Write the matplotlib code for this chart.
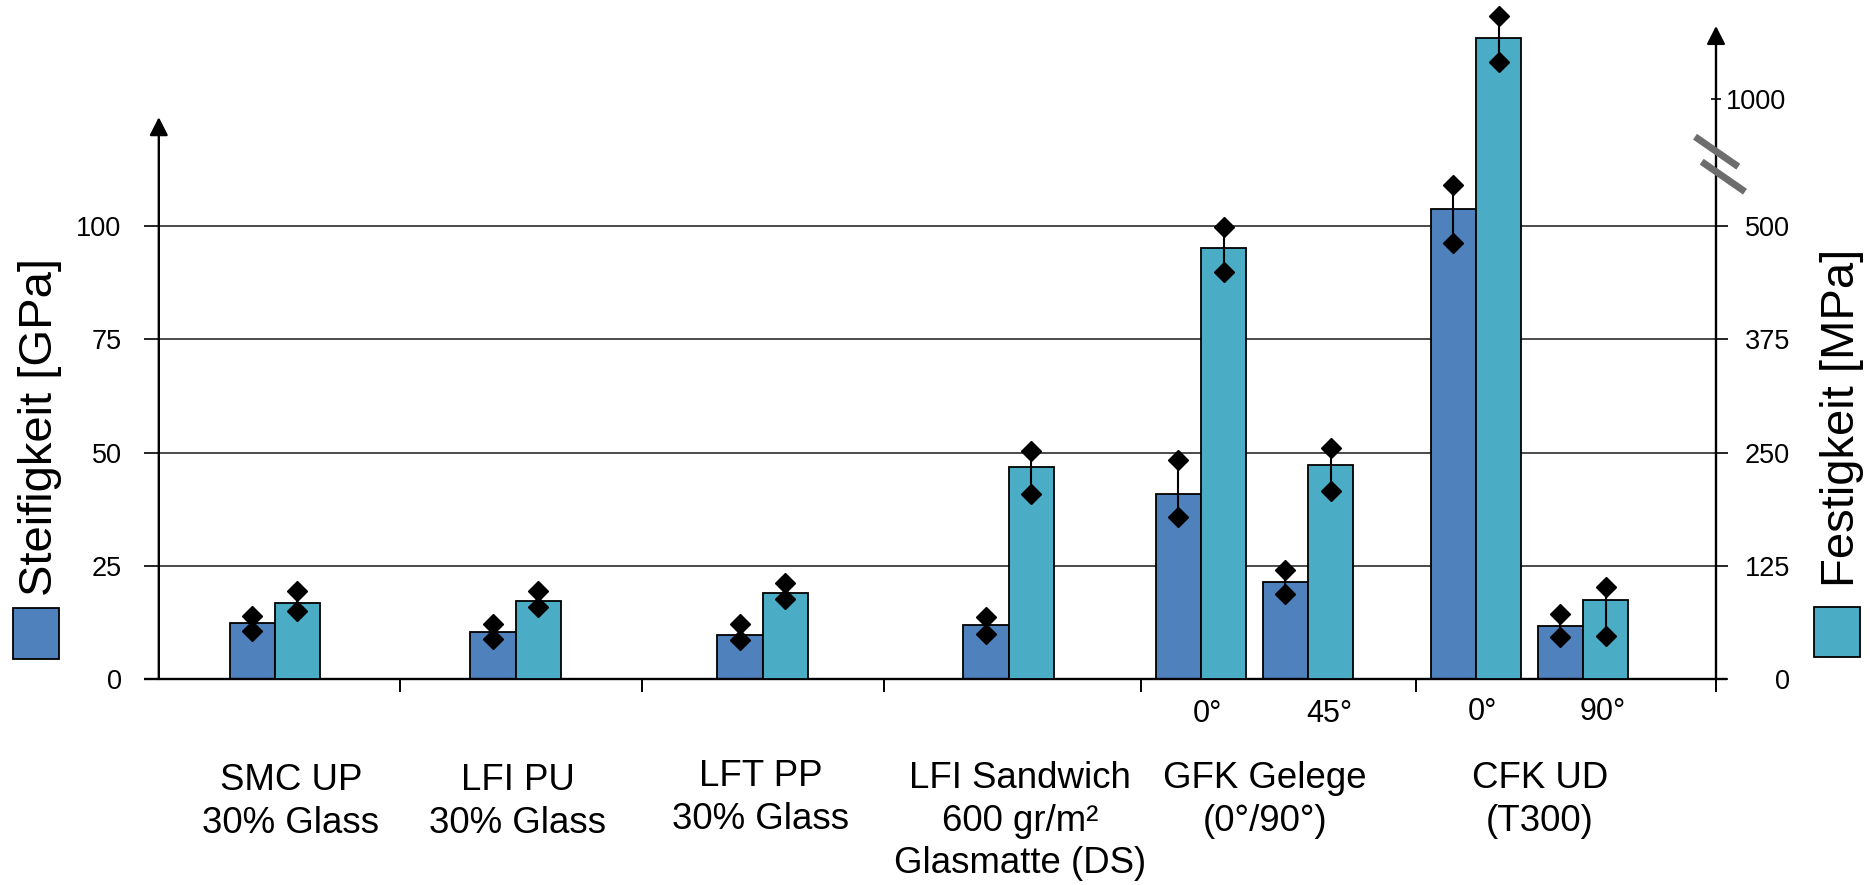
import numpy as np
import matplotlib
matplotlib.use("Agg")
import matplotlib.pyplot as plt
from matplotlib.patches import Rectangle
from matplotlib.lines import Line2D

plt.rcParams['font.family'] = ['Liberation Sans', 'DejaVu Sans']

# ---------------- data ----------------
group_labels = [["SMC UP", "30% Glass"],
                ["LFI PU", "30% Glass"],
                ["LFT PP", "30% Glass"],
                ["LFI Sandwich", "600 gr/m²", "Glasmatte (DS)"],
                ["GFK Gelege", "(0°/90°)"],
                ["CFK UD", "(T300)"]]
orientation_labels = ["0°", "45°", "0°", "90°"]

# one entry per bar pair (SMC, LFI PU, LFT PP, Sandwich, GFK 0°, GFK 45°, CFK 0°, CFK 90°)
stiffness      = [12.3, 10.4, 9.8, 11.9, 40.9, 21.4, 103.7, 11.8]      # GPa
stiffness_low  = [10.7, 8.85, 8.56, 9.9, 35.7, 18.75, 96.3, 9.2]
stiffness_high = [13.9, 12.05, 12.15, 13.6, 48.3, 24.0, 109.1, 14.3]
strength       = [83.5, 86.3, 95.0, 234.5, 476.0, 236.0, 1240.0, 87.2]  # MPa
strength_low   = [75.3, 79.8, 87.9, 204.5, 449.5, 207.5, 1146.0, 47.8]
strength_high  = [96.8, 97.7, 105.5, 252.0, 499.5, 255.0, 1329.0, 101.6]

left_ticks = [0, 25, 50, 75, 100]
right_ticks = [0, 125, 250, 375, 500]
right_upper_tick = 1000

# ---------------- layout (pixels of the 1870x885 canvas) ----------------
FIG_W, FIG_H = 1870, 885
AX_L, AX_R, AX_B, AX_T = 158.8, 1716.0, 679.0, 26.0
PX_Y = 4.529          # pixels per GPa
PX_X = 45.3           # pixels per bar width
pair_px = [274.8, 515.5, 762.7, 1008.7, 1201.0, 1308.0, 1476.0, 1583.0]
sep_px = [400, 642, 884, 1141, 1415.7, AX_R]
LEFT_ARROW_TIP_PX = 117.2
UPPER_1000_PX = 99.3
MS = 10.5

C_STIFF = '#4F81BD'
C_STREN = '#4BACC6'

def fx(px):
    return (px - AX_L) / PX_X

YTOP = (AX_B - AX_T) / PX_Y
XMAX = fx(AX_R)
K_UP = ((AX_B - UPPER_1000_PX) / PX_Y - 100.0) / (right_upper_tick - 500.0)

def fwd(v):
    v = np.asarray(v, dtype=float)
    return np.where(v <= 500, v / 5.0, 100.0 + (v - 500.0) * K_UP)

def inv(u):
    u = np.asarray(u, dtype=float)
    return np.where(u <= 100, u * 5.0, 500.0 + (u - 100.0) / K_UP)

fig = plt.figure(figsize=(FIG_W / 100, FIG_H / 100), dpi=100)
ax = fig.add_axes([AX_L / FIG_W, (FIG_H - AX_B) / FIG_H,
                   (AX_R - AX_L) / FIG_W, (AX_B - AX_T) / FIG_H])
ax.set_xlim(0, XMAX)
ax.set_ylim(0, YTOP)
for s in ax.spines.values():
    s.set_visible(False)

centers = np.array([fx(p) for p in pair_px])
x_stiff = centers - 0.5
x_stren = centers + 0.5

# gridlines
for t in left_ticks[1:]:
    ax.axhline(t, color='#1a1a1a', lw=1.1, zorder=1)

# stiffness bars
st = np.array(stiffness)
ax.bar(x_stiff, st, width=1.0, color=C_STIFF, edgecolor='black', linewidth=1.3, zorder=2)
lo = st - np.array(stiffness_low)
hi = np.array(stiffness_high) - st
ax.errorbar(x_stiff, st, yerr=[lo, hi], fmt='none', ecolor='black', elinewidth=1.5,
            capsize=0, zorder=3, clip_on=False)
ax.plot(x_stiff, stiffness_low, 'D', color='black', ms=MS, ls='none', zorder=4, clip_on=False)
ax.plot(x_stiff, stiffness_high, 'D', color='black', ms=MS, ls='none', zorder=4, clip_on=False)

# axes lines
ax.plot([fx(143.5), fx(1727.0)], [0, 0], color='black', lw=1.7, clip_on=False, zorder=5,
        solid_capstyle='butt')
ax.annotate('', xy=(0, (AX_B - LEFT_ARROW_TIP_PX) / PX_Y), xytext=(0, 0),
            arrowprops=dict(arrowstyle='-|>,head_length=0.55,head_width=0.28',
                            mutation_scale=20, lw=1.7, color='black',
                            shrinkA=0, shrinkB=0),
            annotation_clip=False, zorder=5)
ax.annotate('', xy=(XMAX, YTOP), xytext=(XMAX, 0),
            arrowprops=dict(arrowstyle='-|>,head_length=0.55,head_width=0.28',
                            mutation_scale=20, lw=1.7, color='black',
                            shrinkA=0, shrinkB=0),
            annotation_clip=False, zorder=5)

# left ticks
ax.set_yticks(left_ticks)
ax.set_yticklabels([str(t) for t in left_ticks])
ax.tick_params(axis='y', direction='out', length=10.8, width=1.2, pad=16.0,
               labelsize=19.5, colors='black')
ax.set_xticks([fx(p) for p in sep_px])
ax.set_xticklabels([])
ax.tick_params(axis='x', direction='out', length=9.5, width=1.4)

# strength axis
ax2 = ax.twinx()
for s in ax2.spines.values():
    s.set_visible(False)
ax2.set_yscale('function', functions=(fwd, inv))
ax2.set_ylim(0, float(inv(YTOP)))
sr = np.array(strength)
ax2.bar(x_stren, sr, width=1.0, color=C_STREN, edgecolor='black', linewidth=1.3, zorder=2)
lo2 = sr - np.array(strength_low)
hi2 = np.array(strength_high) - sr
ax2.errorbar(x_stren, sr, yerr=[lo2, hi2], fmt='none', ecolor='black', elinewidth=1.5,
             capsize=0, zorder=3, clip_on=False)
ax2.plot(x_stren, strength_low, 'D', color='black', ms=MS, ls='none', zorder=4, clip_on=False)
ax2.plot(x_stren, strength_high, 'D', color='black', ms=MS, ls='none', zorder=4, clip_on=False)

ax2.set_yticks(right_ticks)
ax2.set_yticklabels([str(t) for t in right_ticks])
ax2.set_yticks([right_upper_tick], minor=True)
ax2.set_yticklabels([str(right_upper_tick)], minor=True)
ax2.tick_params(axis='y', which='major', direction='out', length=8.6, width=1.2,
                pad=44.6, labelsize=19.5)
ax2.tick_params(axis='y', which='minor', direction='inout', length=7.2, width=1.2,
                pad=47.0, labelsize=19.5)
for lab in ax2.get_yticklabels(which='both'):
    lab.set_horizontalalignment('right')

# axis break marks on the strength axis
for (x1, y1, x2, y2) in [(1695.0, 136.7, 1738.3, 166.7), (1701.7, 161.7, 1745.0, 191.7)]:
    fig.add_artist(Line2D([x1 / FIG_W, x2 / FIG_W], [1 - y1 / FIG_H, 1 - y2 / FIG_H],
                          transform=fig.transFigure, color='#6d6d6d', lw=5.0,
                          solid_capstyle='butt', zorder=10))

# category labels
def ftext(xp, yp, s, size, **kw):
    fig.text(xp / FIG_W, 1 - yp / FIG_H, s, fontsize=size, ha='center', va='baseline', **kw)

label_pos = [(291, [790, 833]), (518, [790, 833]), (760.5, [786, 829]),
             (1020, [787.7, 830.7, 873]), (1265, [787.7, 830.7]), (1540, [787.7, 830.7])]
for lines, (xp, ys) in zip(group_labels, label_pos):
    for s, yp in zip(lines, ys):
        ftext(xp, yp, s, 26.4)

orient_pos = [(1207.6, 721.7), (1329.5, 721.7), (1482.5, 719.5), (1603.0, 719.5)]
for s, (xp, yp) in zip(orientation_labels, orient_pos):
    ftext(xp, yp, s, 22)

# axis titles with colour keys
fig.text(40 / FIG_W, 1 - 427 / FIG_H, "Steifigkeit [GPa]", rotation=90, fontsize=34,
         ha='center', va='center')
fig.text(1842.5 / FIG_W, 1 - 418 / FIG_H, "Festigkeit [MPa]", rotation=90, fontsize=34,
         ha='center', va='center')
fig.patches.append(Rectangle((13.4 / FIG_W, 1 - 658.7 / FIG_H), 46 / FIG_W, 50.5 / FIG_H,
                             transform=fig.transFigure, facecolor=C_STIFF,
                             edgecolor='black', lw=1.3))
fig.patches.append(Rectangle((1814 / FIG_W, 1 - 656.7 / FIG_H), 46 / FIG_W, 50 / FIG_H,
                             transform=fig.transFigure, facecolor=C_STREN,
                             edgecolor='black', lw=1.3))

fig.savefig("out.png", dpi=100, facecolor='white')
